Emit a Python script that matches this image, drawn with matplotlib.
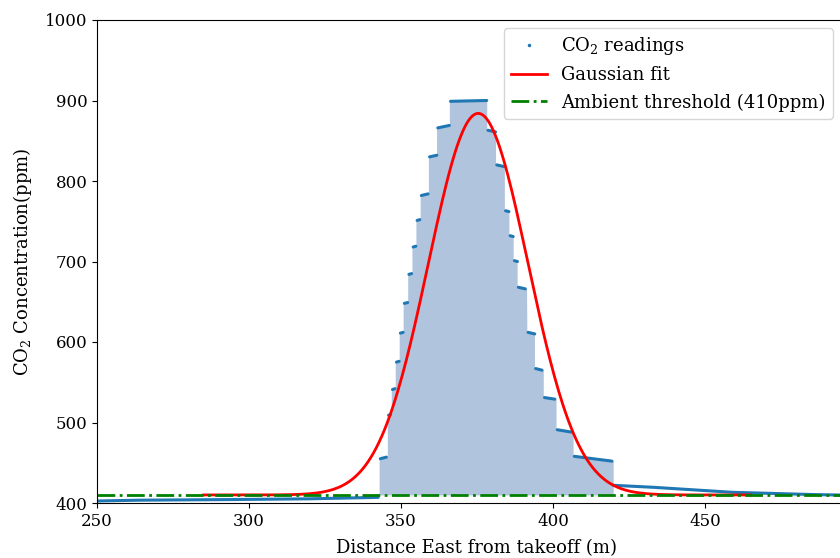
import numpy as np
import matplotlib
matplotlib.use("Agg")
import matplotlib.pyplot as plt
from matplotlib.lines import Line2D

plt.rcParams['font.family'] = 'serif'
plt.rcParams['mathtext.fontset'] = 'dejavuserif'
plt.rcParams['font.size'] = 12

# background readings before / after the plume
pre_x = [250, 264, 295, 320, 342.5]
pre_y = [402.5, 403.5, 404.3, 405.2, 407]
tail_x = [419.8, 433, 459, 485.5, 500]
tail_y = [422, 419.5, 413.3, 410.5, 409.5]

# plume plateaus: start x, end x, value at start, value at end
step_x0 = [342.8, 345.5, 346.8, 348.1, 349.4, 350.7, 352.2, 353.6, 354.9, 356.3,
           359.0, 361.7, 365.9, 378.2, 381.1, 384.0, 385.5, 386.9, 388.2, 391.4,
           393.9, 396.8, 401.0, 406.6]
step_x1 = [345.6, 347.0, 348.4, 349.8, 351.1, 352.6, 353.9, 355.3, 356.6, 359.3,
           362.2, 366.3, 378.6, 381.5, 384.2, 385.9, 387.3, 388.7, 391.3, 394.4,
           396.8, 401.0, 406.6, 419.8]
step_y0 = [455, 509, 541, 575, 611, 648, 684, 718, 751, 782,
           830, 866, 899, 863, 820, 763, 732, 701, 668, 612,
           567, 531, 491, 458]
step_y1 = [457, 510, 542, 576, 612, 649, 685, 719, 752, 784,
           832, 869, 900, 861, 818, 762, 731, 700, 666, 610,
           565, 529, 488, 452]

# gaussian fit parameters
fit_amp = 474
fit_mu = 375.4
fit_sigma = 16.4
fit_base = 410
fit_range = (285, 465)
ambient = 410

blue = '#1f77b4'

fig = plt.figure(figsize=(8.4, 5.58), dpi=100)
ax = fig.add_axes([97/840, 1-503/558, 760/840, 483/558])

# fill under the plume
x0 = np.array(step_x0); x1 = np.array(step_x1)
x1c = np.append(np.minimum(x1[:-1], x0[1:]), x1[-1])
fx = np.ravel(np.column_stack([x0, x1c]))
fy = np.ravel(np.column_stack([step_y0, step_y1]))
ax.fill_between(fx, fy, ambient, color='lightsteelblue', lw=0)

# readings
kw = dict(color=blue, lw=2.2, solid_capstyle='round')
ax.plot(pre_x, pre_y, **kw)
ax.plot(tail_x, tail_y, **kw)
for a, b, c, d in zip(step_x0, step_x1, step_y0, step_y1):
    ax.plot([a + 0.4, b - 0.4], [c, d], **kw)

xf = np.linspace(fit_range[0], fit_range[1], 400)
yf = fit_base + fit_amp * np.exp(-(xf - fit_mu)**2 / (2 * fit_sigma**2))
ax.plot(xf, yf, color='red', lw=2)

ax.axhline(ambient, color='green', ls='-.', lw=2)

ax.set_xlim(250, 500)
ax.set_ylim(400, 1000)
ax.set_xticks([250, 300, 350, 400, 450])
ax.set_yticks(range(400, 1001, 100))
ax.set_xlabel('Distance East from takeoff (m)', fontsize=13, labelpad=7)
ax.set_ylabel('CO$_2$ Concentration(ppm)', fontsize=13, labelpad=8)

handles = [Line2D([], [], color=blue, marker='.', ls='none', markersize=3),
           Line2D([], [], color='red', lw=2),
           Line2D([], [], color='green', ls='-.', lw=2)]
labels = ['CO$_2$ readings', 'Gaussian fit', 'Ambient threshold (410ppm)']
fig.legend(handles, labels, loc='upper right', bbox_to_anchor=(833/840, 1-28/558),
           bbox_transform=fig.transFigure, borderaxespad=0, fontsize=13)

fig.savefig('out.png', dpi=100)
